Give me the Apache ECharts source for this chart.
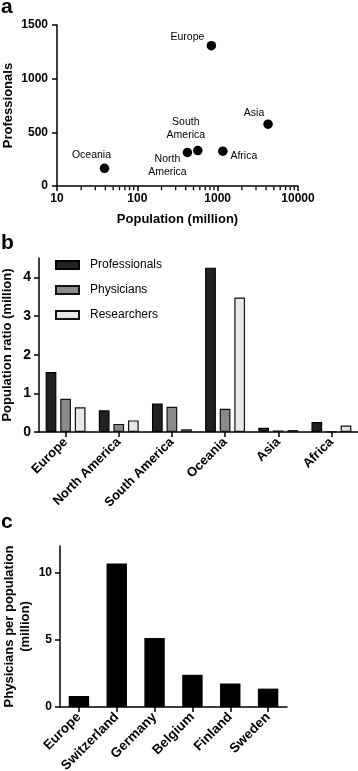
<!DOCTYPE html>
<html>
<head>
<meta charset="utf-8">
<script src="https://cdn.jsdelivr.net/npm/echarts@6/dist/echarts.min.js"></script>
<style>
html, body { margin: 0; padding: 0; background: #fff; }
#main { width: 358px; height: 771px; }
</style>
</head>
<body>
<div id="main"></div>
<script>
// panel a - professionals vs population
var regions = ['Europe', 'Asia', 'Africa', 'South America', 'North America', 'Oceania'];
var population = [835, 4240, 1160, 566, 420, 39];
var professionals = [1307, 576, 324, 330, 312, 165];
var popMinorTicks = [20, 30, 40, 50, 60, 70, 80, 90, 200, 300, 400, 500, 600, 700, 800, 900,
    2000, 3000, 4000, 5000, 6000, 7000, 8000, 9000];

// panel b - population ratio
var continents = ['Europe', 'North America', 'South America', 'Oceania', 'Asia', 'Africa'];
var ratioProfessionals = [1.55, 0.56, 0.74, 4.25, 0.11, 0.26];
var ratioPhysicians = [0.86, 0.21, 0.65, 0.60, 0.04, 0.01];
var ratioResearchers = [0.64, 0.30, 0.07, 3.48, 0.05, 0.17];
var ratioTicks = [0, 1, 2, 3, 4];

// panel c - physicians per population
var countries = ['Europe', 'Switzerland', 'Germany', 'Belgium', 'Finland', 'Sweden'];
var physiciansPerPop = [0.82, 10.7, 5.15, 2.4, 1.75, 1.37];
var physTicks = [0, 5, 10];

var FONT = '"Liberation Sans", Arial, sans-serif';
var axisLine = { show: true, lineStyle: { color: '#000', width: 1.5 } };
var tickStyle = { show: true, length: 5, lineStyle: { color: '#000', width: 1.5 } };
var tickLabel = { color: '#000', fontWeight: 'bold', fontSize: 12, fontFamily: FONT };
var nameStyle = { color: '#000', fontWeight: 'bold', fontSize: 13, fontFamily: FONT };
var plainNum = function (v) { return String(v); };

// label placement for the scatter points (text centre relative to point)
var labelOffsets = {
    'Europe': [-24, -9],
    'Asia': [-14, -11],
    'Africa': [21, 5],
    'South America': [-12, -22],
    'North America': [-20, 13],
    'Oceania': [-13, -13]
};

var scatterData = regions.map(function (r, i) {
    return {
        name: r,
        value: [population[i], professionals[i]],
        label: { offset: labelOffsets[r] }
    };
});

var myChart = echarts.init(document.getElementById('main'));

var option = {
    animation: false,
    textStyle: { fontFamily: FONT },
    title: [
        { text: 'a', left: 1, top: -3, padding: 0, textStyle: { fontSize: 21, fontWeight: 'bold', color: '#000' } },
        { text: 'b', left: 1, top: 233, padding: 0, textStyle: { fontSize: 21, fontWeight: 'bold', color: '#000' } },
        { text: 'c', left: 1, top: 512, padding: 0, textStyle: { fontSize: 21, fontWeight: 'bold', color: '#000' } }
    ],
    legend: {
        data: ['Professionals', 'Physicians', 'Researchers'],
        orient: 'vertical',
        left: 55,
        top: 259,
        padding: 0,
        itemWidth: 23,
        itemHeight: 8,
        itemGap: 13,
        icon: 'rect',
        textStyle: { fontSize: 12, color: '#000', fontFamily: FONT, padding: [0, 0, 0, 6] }
    },
    grid: [
        { left: 57, right: 60, top: 25, height: 161, outerBoundsMode: 'none' },
        { left: 39, right: 0, top: 258, height: 174, outerBoundsMode: 'none' },
        { left: 60, right: 71, top: 546, height: 161, outerBoundsMode: 'none' }
    ],
    xAxis: [
        {
            gridIndex: 0, type: 'log', logBase: 10, min: 10, max: 10000,
            name: 'Population (million)', nameLocation: 'middle', nameGap: 27,
            nameMoveOverlap: false,
            nameTextStyle: nameStyle,
            axisLine: axisLine, axisTick: tickStyle,
            axisLabel: Object.assign({ margin: 7, formatter: plainNum }, tickLabel),
            splitLine: { show: false }
        },
        {
            gridIndex: 1, type: 'category', data: continents,
            axisLine: axisLine,
            axisTick: Object.assign({ alignWithLabel: true }, tickStyle),
            axisLabel: Object.assign({}, tickLabel, { rotate: 45, fontSize: 13, margin: 8, interval: 0 }),
            splitLine: { show: false }
        },
        {
            gridIndex: 2, type: 'category', data: countries,
            axisLine: axisLine,
            axisTick: Object.assign({ alignWithLabel: true }, tickStyle),
            axisLabel: Object.assign({}, tickLabel, { rotate: 45, fontSize: 13.5, margin: 8, interval: 0 }),
            splitLine: { show: false }
        }
    ],
    yAxis: [
        {
            gridIndex: 0, type: 'value', min: 0, max: 1500, interval: 500,
            name: 'Professionals', nameLocation: 'middle', nameGap: 42,
            nameMoveOverlap: false,
            nameTextStyle: nameStyle,
            axisLine: axisLine, axisTick: tickStyle,
            axisLabel: Object.assign({ margin: 9, formatter: plainNum }, tickLabel),
            splitLine: { show: false }
        },
        {
            gridIndex: 1, type: 'value', min: 0, max: 4.5,
            name: 'Population ratio (million)', nameLocation: 'middle', nameGap: 25,
            nameMoveOverlap: false,
            nameTextStyle: nameStyle,
            axisLine: axisLine,
            axisTick: Object.assign({ customValues: ratioTicks }, tickStyle),
            axisLabel: Object.assign({ margin: 8, customValues: ratioTicks }, tickLabel, { fontSize: 14 }),
            splitLine: { show: false }
        },
        {
            gridIndex: 2, type: 'value', min: 0, max: 12,
            name: 'Physicians per population\n(million)', nameLocation: 'middle', nameGap: 27,
            nameMoveOverlap: false,
            nameTextStyle: Object.assign({ lineHeight: 16 }, nameStyle),
            axisLine: axisLine,
            axisTick: Object.assign({ customValues: physTicks }, tickStyle),
            axisLabel: Object.assign({ margin: 8, customValues: physTicks }, tickLabel),
            splitLine: { show: false }
        }
    ],
    series: [
        {
            type: 'scatter', xAxisIndex: 0, yAxisIndex: 0,
            symbolSize: 9.5,
            itemStyle: { color: '#000', opacity: 1 },
            label: {
                show: true, position: 'inside', color: '#000', fontSize: 10.5, lineHeight: 13,
                formatter: function (p) { return p.name.replace(' ', '\n'); }
            },
            data: scatterData
        },
        {
            // minor ticks on the log axis
            type: 'scatter', xAxisIndex: 0, yAxisIndex: 0, silent: true, clip: false,
            symbol: 'rect', symbolSize: [1.3, 3.5], symbolOffset: [0, 2.5],
            itemStyle: { color: '#000', opacity: 1 },
            data: popMinorTicks.map(function (v) { return [v, 0]; })
        },
        {
            name: 'Professionals', type: 'bar', xAxisIndex: 1, yAxisIndex: 1,
            barGap: '36%', barCategoryGap: '25%',
            itemStyle: { color: '#222', borderColor: '#000', borderWidth: 1.2 },
            data: ratioProfessionals
        },
        {
            name: 'Physicians', type: 'bar', xAxisIndex: 1, yAxisIndex: 1,
            itemStyle: { color: '#8a8a8a', borderColor: '#111', borderWidth: 1.2 },
            data: ratioPhysicians
        },
        {
            name: 'Researchers', type: 'bar', xAxisIndex: 1, yAxisIndex: 1,
            itemStyle: { color: '#e8e8e8', borderColor: '#111', borderWidth: 1.2 },
            data: ratioResearchers
        },
        {
            type: 'bar', xAxisIndex: 2, yAxisIndex: 2,
            barCategoryGap: '46%',
            itemStyle: { color: '#000' },
            data: physiciansPerPop
        }
    ]
};

myChart.setOption(option);
</script>
</body>
</html>
